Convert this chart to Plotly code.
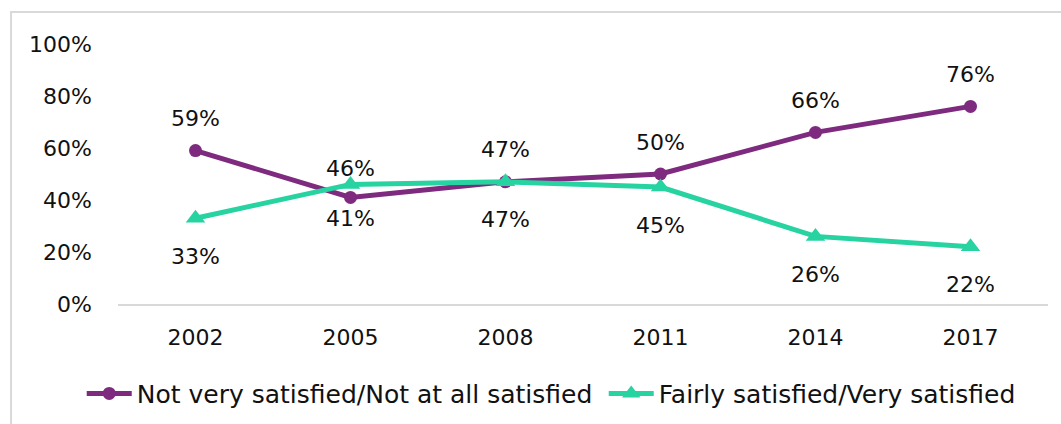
import plotly.graph_objects as go

years = ["2002", "2005", "2008", "2011", "2014", "2017"]
not_satisfied = [59, 41, 47, 50, 66, 76]
satisfied = [33, 46, 47, 45, 26, 22]
name_not = "Not very satisfied/Not at all satisfied"
name_sat = "Fairly satisfied/Very satisfied"
y_ticks = [0, 20, 40, 60, 80, 100]

# label placement style (above / below the point)
pos_not = ["above", "below", "above", "above", "above", "above"]
pos_sat = ["below", "above", "below", "below", "below", "below"]

PURPLE = "#7E2A7E"
TEAL = "#27D3A1"
FONT = "DejaVu Sans"

fig = go.Figure()
fig.add_trace(go.Scatter(x=years, y=not_satisfied, name=name_not, mode="lines+markers",
                         line=dict(color=PURPLE, width=5),
                         marker=dict(symbol="circle", size=13, color=PURPLE)))
fig.add_trace(go.Scatter(x=years, y=satisfied, name=name_sat, mode="lines+markers",
                         line=dict(color=TEAL, width=5),
                         marker=dict(symbol="triangle-up", size=17, color=TEAL)))

# yshift: positive = up
shift_not = {"above": 32, "below": -21}
shift_sat = {"above": 16, "below": -38}
for i, (v, p) in enumerate(zip(not_satisfied, pos_not)):
    fig.add_annotation(x=i, y=v, xref="x", yref="y", text=f"{v}%", showarrow=False,
                       yshift=shift_not[p], font=dict(family=FONT, size=22, color="#111"))
for i, (v, p) in enumerate(zip(satisfied, pos_sat)):
    fig.add_annotation(x=i, y=v, xref="x", yref="y", text=f"{v}%", showarrow=False,
                       yshift=shift_sat[p], font=dict(family=FONT, size=22, color="#111"))

fig.add_shape(type="rect", xref="paper", yref="paper", x0=-0.115, x1=1.03, y0=-0.5, y1=1.123,
              line=dict(color="#D9D9D9", width=2), fillcolor="rgba(0,0,0,0)", layer="below")

fig.update_layout(
    width=1061, height=424,
    margin=dict(l=118, r=13, t=44, b=120, autoexpand=False),
    paper_bgcolor="white", plot_bgcolor="white",
    font=dict(family=FONT, size=22, color="#111"),
    showlegend=True,
    legend=dict(orientation="h", x=-0.039, xanchor="left", y=-0.345, yanchor="middle",
                font=dict(family=FONT, size=25, color="#111"), itemwidth=45,
                entrywidth=462, entrywidthmode="pixels",
                bgcolor="rgba(0,0,0,0)"),
    xaxis=dict(type="category", range=[-0.5, 5.5], showgrid=False, zeroline=False,
               showline=True, linecolor="#D9D9D9", linewidth=2, ticks="", ticklen=0,
               ticklabelstandoff=13,
               tickfont=dict(family=FONT, size=22, color="#111")),
    yaxis=dict(range=[0, 100], tickvals=y_ticks, ticktext=[f"{t}%" for t in y_ticks],
               showgrid=False, zeroline=False, showline=False, ticks="",
               ticklabelstandoff=25,
               tickfont=dict(family=FONT, size=22, color="#111")),
)

fig.write_html("out.html", config={"displayModeBar": False},
               post_script="document.body.style.margin='0';document.body.style.overflow='hidden';")
